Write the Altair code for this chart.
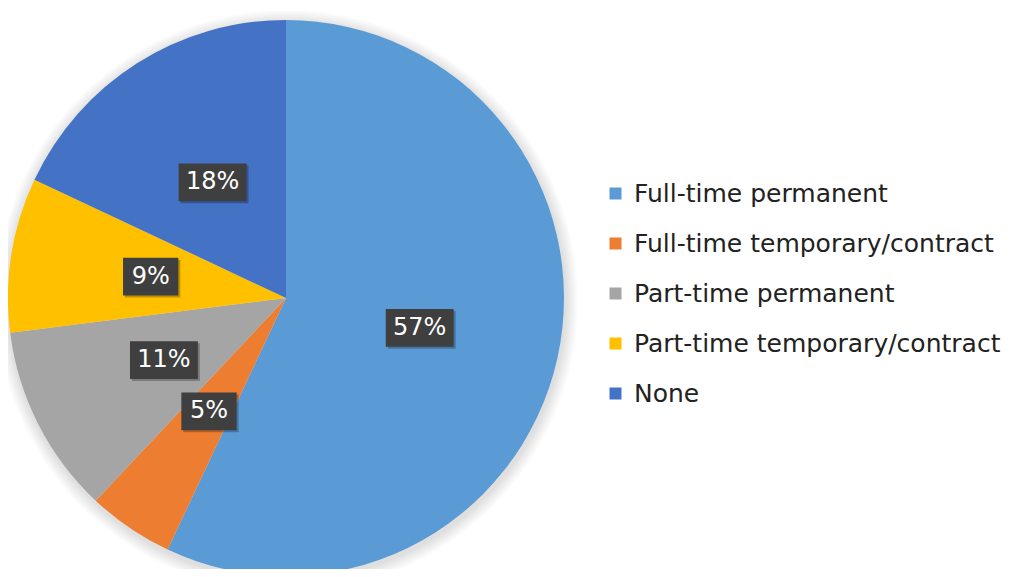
import altair as alt
import pandas as pd

categories = ["Full-time permanent", "Full-time temporary/contract",
              "Part-time permanent", "Part-time temporary/contract", "None"]
shares = [57, 5, 11, 9, 18]
labels = ["57%", "5%", "11%", "9%", "18%"]
colors = ["#5B9BD5", "#ED7D31", "#A5A5A5", "#FFC000", "#4472C4"]

df = pd.DataFrame({
    "category": categories,
    "share": shares,
    "label": labels,
    "idx": list(range(len(categories))),
})

CX, CY, R, LR = 278, 290, 278, 137
FONT = "DejaVu Sans"

base = alt.Chart(df)

color = alt.Color(
    "category:N",
    scale=alt.Scale(domain=categories, range=colors),
    legend=alt.Legend(
        title=None, orient="none", legendX=595, legendY=173,
        symbolType="square", symbolSize=144, symbolStrokeWidth=0,
        labelFont=FONT, labelFontSize=25, labelColor="#222222",
        labelOffset=6, rowPadding=24, labelLimit=500,
    ),
)

# soft shadow behind the pie
shadows = []
for k in range(1, 9):
    shadows.append(
        base.transform_aggregate(total="sum(share)")
        .mark_arc(outerRadius=R + k * 1.6, fill="#000000", opacity=0.014)
        .encode(theta=alt.Theta("total:Q"), x=alt.value(CX + 1), y=alt.value(CY + 3))
    )

pie = base.mark_arc(outerRadius=R).encode(
    theta=alt.Theta("share:Q", stack=True),
    order=alt.Order("idx:Q"),
    color=color,
    x=alt.value(CX),
    y=alt.value(CY),
)

pos = (
    base.transform_joinaggregate(total="sum(share)")
    .transform_window(cum="sum(share)", sort=[alt.SortField("idx")], frame=[None, 0])
    .transform_calculate(
        ang="2*PI*(datum.cum - datum.share/2)/datum.total",
    )
    .transform_calculate(
        px=f"{CX} + {LR}*sin(datum.ang)",
        py=f"{CY} - {LR}*cos(datum.ang)",
        box="length(datum.label) > 2 ? 'M-0.97,-0.54H0.97V0.54H-0.97Z' : 'M-0.79,-0.54H0.79V0.54H-0.79Z'",
    )
)

xy = dict(
    x=alt.X("px:Q", scale=None, axis=None),
    y=alt.Y("py:Q", scale=None, axis=None),
)

box_shadow = pos.mark_point(filled=True, size=4900, color="#000000", opacity=0.25,
                            strokeWidth=0, xOffset=2, yOffset=2).encode(
    shape=alt.Shape("box:N", scale=None), **xy)
box = pos.mark_point(filled=True, size=4900, color="#3F3F3F", opacity=1,
                     strokeWidth=0).encode(
    shape=alt.Shape("box:N", scale=None), **xy)
text = pos.mark_text(font=FONT, fontSize=24, color="white", align="center",
                     baseline="middle").encode(text="label:N", **xy)

chart = alt.layer(*shadows, pie, box_shadow, box, text).properties(
    width=999, height=561, autosize="none", padding=0,
).configure_view(stroke=None)

chart.save("out.html", embed_options={"renderer": "svg", "actions": False})
